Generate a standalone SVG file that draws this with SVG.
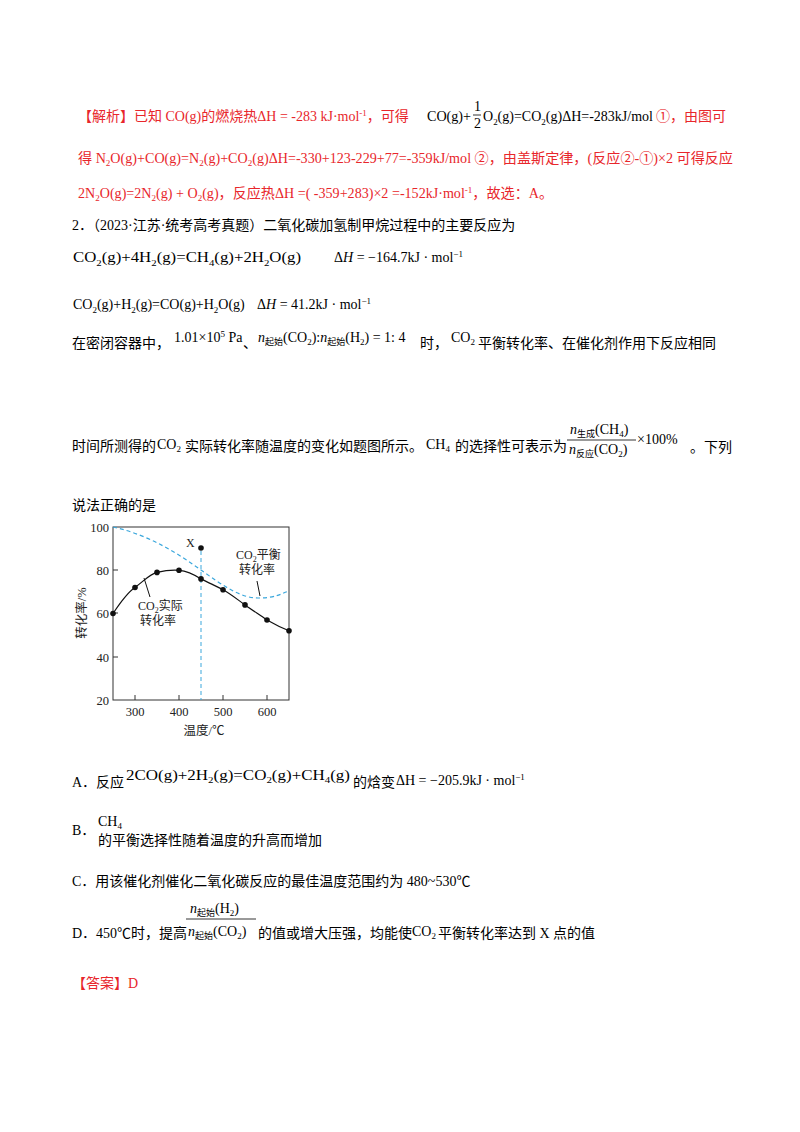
<svg xmlns="http://www.w3.org/2000/svg" width="800" height="1132" viewBox="0 0 800 1132">
<style>
text{font-family:"Liberation Serif","Noto Sans CJK SC",serif;font-size:14px;fill:#000}
.r{fill:#e8262b}
.s{font-size:9px}
.ax{font-size:12.5px;fill:#222}
.lbl{font-size:12px;fill:#222}
</style>
<rect width="800" height="1132" fill="#fff"/>
<g id="analysis">
<text class="r" x="78" y="121">【解析】已知 CO(g)的燃烧热ΔH = -283 kJ·mol<tspan class="s" dy="-5">-1</tspan><tspan dy="5">，可得</tspan></text>
<text x="427" y="121" font-size="15" textLength="44" lengthAdjust="spacingAndGlyphs">CO(g)+</text>
<text x="474" y="111" font-size="11">1</text>
<line x1="473" y1="115" x2="481" y2="115" stroke="#000" stroke-width="0.8"/>
<text x="474" y="128" font-size="11">2</text>
<text x="483" y="121" font-size="15" textLength="170" lengthAdjust="spacingAndGlyphs">O<tspan class="s" dy="4">2</tspan><tspan dy="-4">(g)=CO</tspan><tspan class="s" dy="4">2</tspan><tspan dy="-4">(g)ΔH=-283kJ/mol</tspan></text>
<text class="r" x="656" y="121">①，由图可</text>
<text class="r" x="78" y="163" textLength="655" lengthAdjust="spacingAndGlyphs">得 N<tspan class="s" dy="3">2</tspan><tspan dy="-3">O(g)+CO(g)=N</tspan><tspan class="s" dy="3">2</tspan><tspan dy="-3">(g)+CO</tspan><tspan class="s" dy="3">2</tspan><tspan dy="-3">(g)ΔH=-330+123-229+77=-359kJ/mol ②，由盖斯定律，(反应②-①)×2 可得反应</tspan></text>
<text class="r" x="78" y="198" textLength="475" lengthAdjust="spacingAndGlyphs">2N<tspan class="s" dy="3">2</tspan><tspan dy="-3">O(g)=2N</tspan><tspan class="s" dy="3">2</tspan><tspan dy="-3">(g) + O</tspan><tspan class="s" dy="3">2</tspan><tspan dy="-3">(g)，反应热ΔH =( -359+283)×2 =-152kJ·mol</tspan><tspan class="s" dy="-5">-1</tspan><tspan dy="5">，故选：A。</tspan></text>
</g>
<g id="question">
<text x="72" y="230">2．（2023·江苏·统考高考真题）二氧化碳加氢制甲烷过程中的主要反应为</text>
<text x="73" y="262" font-size="15" textLength="228" lengthAdjust="spacingAndGlyphs">CO<tspan class="s" dy="4">2</tspan><tspan dy="-4">(g)+4H</tspan><tspan class="s" dy="4">2</tspan><tspan dy="-4">(g)=CH</tspan><tspan class="s" dy="4">4</tspan><tspan dy="-4">(g)+2H</tspan><tspan class="s" dy="4">2</tspan><tspan dy="-4">O(g)</tspan></text>
<text x="334" y="262" font-size="13">Δ<tspan font-style="italic">H</tspan> = −164.7kJ · mol<tspan class="s" dy="-5">−1</tspan></text>
<text x="73" y="309" font-size="15.5">CO<tspan class="s" dy="4">2</tspan><tspan dy="-4">(g)+H</tspan><tspan class="s" dy="4">2</tspan><tspan dy="-4">(g)=CO(g)+H</tspan><tspan class="s" dy="4">2</tspan><tspan dy="-4">O(g)</tspan></text>
<text x="257" y="309" font-size="13">Δ<tspan font-style="italic">H</tspan> = 41.2kJ · mol<tspan class="s" dy="-5">−1</tspan></text>
<text x="72" y="348">在密闭容器中，</text>
<text x="174" y="342" font-size="12">1.01×10<tspan class="s" dy="-5">5</tspan><tspan dy="5"> Pa</tspan></text>
<text x="243" y="348">、</text>
<text x="258" y="342" font-size="13"><tspan font-style="italic">n</tspan><tspan class="s" dy="3">起始</tspan><tspan dy="-3">(CO</tspan><tspan class="s" dy="3">2</tspan><tspan dy="-3">):</tspan><tspan font-style="italic">n</tspan><tspan class="s" dy="3">起始</tspan><tspan dy="-3">(H</tspan><tspan class="s" dy="3">2</tspan><tspan dy="-3">) = 1: 4</tspan></text>
<text x="420" y="348">时，</text>
<text x="451" y="342" font-size="13">CO<tspan class="s" dy="3">2</tspan></text>
<text x="478" y="348">平衡转化率、在催化剂作用下反应相同</text>
<text x="72" y="451">时间所测得的</text>
<text x="157" y="449" font-size="15">CO<tspan class="s" dy="3">2</tspan></text>
<text x="185" y="451">实际转化率随温度的变化如题图所示。</text>
<text x="426" y="449" font-size="14">CH<tspan class="s" dy="3">4</tspan></text>
<text x="455" y="451">的选择性可表示为</text>
<text x="570" y="434" font-size="12"><tspan font-style="italic">n</tspan><tspan class="s" dy="3">生成</tspan><tspan dy="-3">(CH</tspan><tspan class="s" dy="3">4</tspan><tspan dy="-3">)</tspan></text>
<line x1="567" y1="440" x2="636" y2="440" stroke="#000" stroke-width="0.8"/>
<text x="569" y="454" font-size="12"><tspan font-style="italic">n</tspan><tspan class="s" dy="3">反应</tspan><tspan dy="-3">(CO</tspan><tspan class="s" dy="3">2</tspan><tspan dy="-3">)</tspan></text>
<text x="637" y="444" font-size="12">×100%</text>
<text x="690" y="452">。下列</text>
<text x="72" y="510">说法正确的是</text>
</g>
<g id="chart">
<rect x="113" y="527" width="176" height="173" fill="none" stroke="#333" stroke-width="1"/>
<g stroke="#333">
<line x1="113" y1="570" x2="118" y2="570"/><line x1="113" y1="613" x2="118" y2="613"/><line x1="113" y1="657" x2="118" y2="657"/>
<line x1="135" y1="700" x2="135" y2="695"/><line x1="179" y1="700" x2="179" y2="695"/><line x1="223" y1="700" x2="223" y2="695"/><line x1="267" y1="700" x2="267" y2="695"/>
</g>
<text class="ax" x="109" y="532" text-anchor="end">100</text>
<text class="ax" x="109" y="575" text-anchor="end">80</text>
<text class="ax" x="109" y="618" text-anchor="end">60</text>
<text class="ax" x="109" y="662" text-anchor="end">40</text>
<text class="ax" x="109" y="705" text-anchor="end">20</text>
<text class="ax" x="135" y="716" text-anchor="middle">300</text>
<text class="ax" x="179" y="716" text-anchor="middle">400</text>
<text class="ax" x="223" y="716" text-anchor="middle">500</text>
<text class="ax" x="267" y="716" text-anchor="middle">600</text>
<text class="ax" x="204" y="735" text-anchor="middle">温度/℃</text>
<text class="ax" transform="translate(86,613) rotate(-90)" text-anchor="middle">转化率/%</text>
<path d="M113,527 C150,535 180,555 201,570 S240,598 258,598 S280,594 289,591" fill="none" stroke="#3aa7dc" stroke-width="1.2" stroke-dasharray="4,3"/>
<line x1="201" y1="551" x2="201" y2="700" stroke="#3aa7dc" stroke-width="1" stroke-dasharray="4,3"/>
<path d="M113,613.5 C122,600 128,592 135,587.5 C145,580 150,574 157,572.4 C165,570.5 172,569.8 179,570.3 C188,571 195,575 201,578.9 C209,583 216,586 223,589.7 C231,594 238,600 245,604.9 C252,610 260,615 267,620 C274,624 282,628 289,630.8" fill="none" stroke="#111" stroke-width="1.2"/>
<g fill="#111">
<circle cx="113" cy="613.5" r="2.8"/><circle cx="135" cy="587.5" r="2.8"/><circle cx="157" cy="572.4" r="2.8"/><circle cx="179" cy="570.3" r="2.8"/><circle cx="201" cy="578.9" r="2.8"/><circle cx="223" cy="589.7" r="2.8"/><circle cx="245" cy="604.9" r="2.8"/><circle cx="267" cy="620" r="2.8"/><circle cx="289" cy="630.8" r="2.8"/><circle cx="201" cy="548" r="2.8"/>
</g>
<text class="lbl" x="186" y="547">X</text>
<text class="lbl" x="236" y="559">CO<tspan font-size="8" dy="3">2</tspan><tspan dy="-3">平衡</tspan></text>
<text class="lbl" x="239" y="574">转化率</text>
<line x1="257" y1="581" x2="260" y2="596" stroke="#111"/>
<text class="lbl" x="138" y="610">CO<tspan font-size="8" dy="3">2</tspan><tspan dy="-3">实际</tspan></text>
<text class="lbl" x="140" y="625">转化率</text>
<line x1="144" y1="578" x2="150" y2="597" stroke="#111"/>
</g>
<g id="options">
<text x="72" y="787">A．反应</text>
<text x="126" y="780" font-size="14" textLength="224" lengthAdjust="spacingAndGlyphs">2CO(g)+2H<tspan class="s" dy="3">2</tspan><tspan dy="-3">(g)=CO</tspan><tspan class="s" dy="3">2</tspan><tspan dy="-3">(g)+CH</tspan><tspan class="s" dy="3">4</tspan><tspan dy="-3">(g)</tspan></text>
<text x="353" y="787">的焓变</text>
<text x="396" y="785" font-size="12">ΔH = −205.9kJ · mol<tspan class="s" dy="-5">−1</tspan></text>
<text x="72" y="835">B．</text>
<text x="98" y="826" font-size="13">CH<tspan class="s" dy="3">4</tspan></text>
<text x="98" y="845">的平衡选择性随着温度的升高而增加</text>
<text x="72" y="886">C．用该催化剂催化二氧化碳反应的最佳温度范围约为 480~530℃</text>
<text x="190" y="913" font-size="12"><tspan font-style="italic">n</tspan><tspan class="s" dy="3">起始</tspan><tspan dy="-3">(H</tspan><tspan class="s" dy="3">2</tspan><tspan dy="-3">)</tspan></text>
<line x1="186" y1="919" x2="256" y2="919" stroke="#000" stroke-width="0.8"/>
<text x="72" y="938">D．450℃时，提高</text>
<text x="188" y="936" font-size="12"><tspan font-style="italic">n</tspan><tspan class="s" dy="3">起始</tspan><tspan dy="-3">(CO</tspan><tspan class="s" dy="3">2</tspan><tspan dy="-3">)</tspan></text>
<text x="258" y="938">的值或增大压强，均能使</text>
<text x="412" y="936" font-size="14">CO<tspan class="s" dy="3">2</tspan></text>
<text x="438" y="938">平衡转化率达到 X 点的值</text>
<text class="r" x="72" y="988">【答案】D</text>
</g>
</svg>
